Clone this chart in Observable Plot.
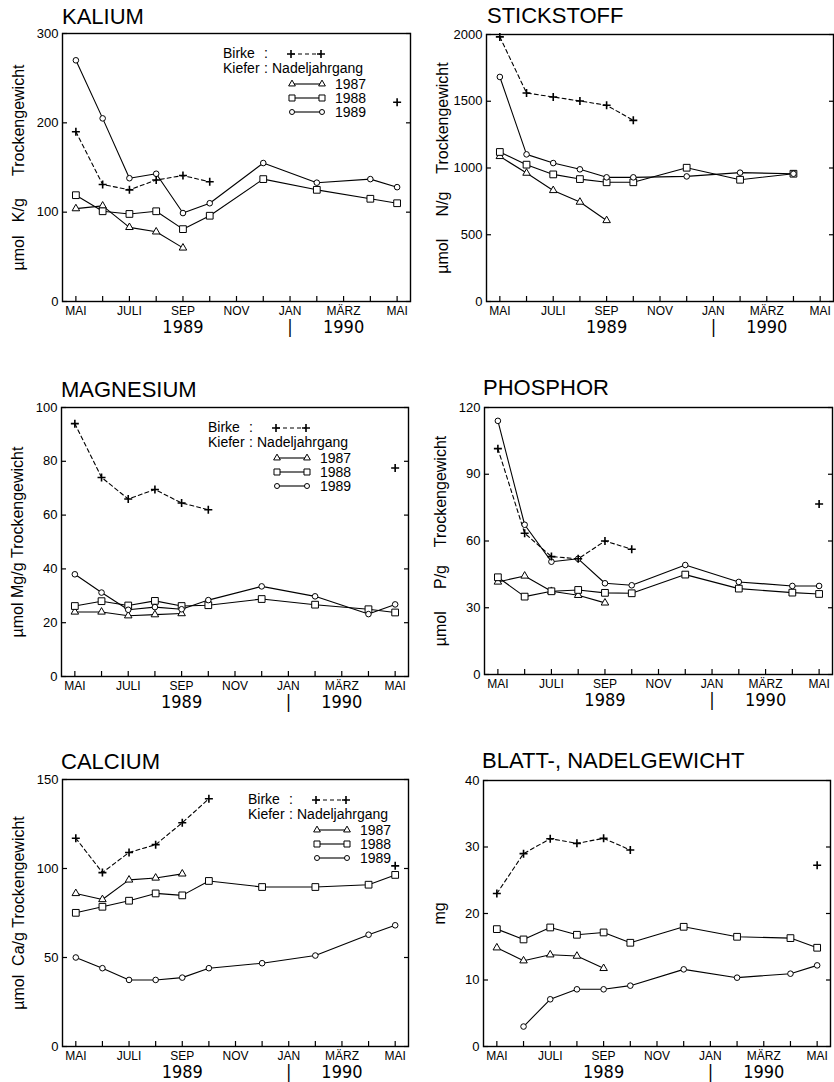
<!DOCTYPE html>
<html>
<head>
<meta charset="utf-8">
<script src="https://cdn.jsdelivr.net/npm/d3@7"></script>
<script src="https://cdn.jsdelivr.net/npm/@observablehq/plot@0.6"></script>
<style>
  body { margin: 0; background: #fff; }
  #root { position: relative; width: 834px; height: 1082px; overflow: hidden; background: #fff;
          font-family: "Liberation Sans", Arial, sans-serif; color: #000; }
  .panel { position: absolute; }
  .panel svg { display: block; overflow: visible; }
  .title { position: absolute; font-size: 22px; line-height: 1; white-space: nowrap; color: #000; }
</style>
</head>
<body>
<div id="root"></div>
<script>
// ---------- shared axis data ----------
const months = d3.range(13); // 0 = Mai 1989 ... 12 = Mai 1990
const monthLabels = ["MAI", "", "JULI", "", "SEP", "", "NOV", "", "JAN", "", "MÄRZ", "", "MAI"];
const yearTicks = [4, 8, 10];
const yearLabels = ["1989", "|", "1990"];
const legendBirke = "Birke";
const legendKiefer = "Kiefer";
const legendNadel = "Nadeljahrgang";
const legendYears = ["1987", "1988", "1989"];

// ---------- KALIUM ----------
const kaliumTicks = [0, 100, 200, 300];
const kaliumBirke = [190, 131, 125, 136, 141, 134, null, null, null, null, null, null, 223];
const kaliumK87 = [104, 107, 83, 78, 60, null, null, null, null, null, null, null, null];
const kaliumK88 = [119, 101, 98, 101, 81, 96, null, 137, null, 125, null, 115, 110];
const kaliumK89 = [270, 205, 138, 143, 99, 110, null, 155, null, 133, null, 137, 128];

// ---------- STICKSTOFF ----------
const stickTicks = [0, 500, 1000, 1500, 2000];
const stickBirke = [1982, 1562, 1532, 1502, 1470, 1357, null, null, null, null, null, null, null];
const stickK87 = [1087, 962, 832, 745, 607, null, null, null, null, null, null, null, null];
const stickK88 = [1120, 1025, 952, 917, 893, 893, null, 1002, null, 912, null, 957, null];
const stickK89 = [1682, 1102, 1037, 990, 930, 930, null, 937, null, 965, null, 957, null];

// ---------- MAGNESIUM ----------
const magTicks = [0, 20, 40, 60, 80, 100];
const magBirke = [94, 74, 66, 69.5, 64.5, 62, null, null, null, null, null, null, 77.5];
const magK87 = [24, 24, 22.6, 23, 23.4, null, null, null, null, null, null, null, null];
const magK88 = [26.2, 28, 26.4, 28.1, 26.2, 26.5, null, 28.8, null, 26.7, null, 25, 23.8];
const magK89 = [38, 31.2, 24.8, 25.8, 25, 28.4, null, 33.5, null, 29.8, null, 23.2, 26.8];

// ---------- PHOSPHOR ----------
const phosTicks = [0, 30, 60, 90, 120];
const phosBirke = [101.5, 63.5, 53, 52, 60, 56.3, null, null, null, null, null, null, 76.6];
const phosK87 = [41.6, 44.3, 37.4, 35.6, 32.2, null, null, null, null, null, null, null, null];
const phosK88 = [43.7, 35, 37.4, 38, 36.7, 36.5, null, 44.9, null, 38.6, null, 36.8, 36.2];
const phosK89 = [114, 67.3, 50.7, 52, 41, 40.1, null, 49.2, null, 41.6, null, 39.8, 39.8];

// ---------- CALCIUM ----------
const calTicks = [0, 50, 100, 150];
const calBirke = [117, 97.7, 109, 113.4, 125.7, 139.2, null, null, null, null, null, null, 101.5];
const calK87 = [86, 82.6, 93.6, 94.7, 97, null, null, null, null, null, null, null, null];
const calK88 = [75.1, 78.5, 81.9, 86, 84.9, 93, null, 89.6, null, 89.6, null, 90.9, 96.4];
const calK89 = [50, 44, 37.4, 37.4, 38.7, 44, null, 46.8, null, 51.1, null, 62.8, 68.1];

// ---------- BLATT-, NADELGEWICHT ----------
const blattTicks = [0, 10, 20, 30, 40];
const blattBirke = [23, 29, 31.25, 30.55, 31.3, 29.55, null, null, null, null, null, null, 27.25];
const blattK87 = [14.85, 12.9, 13.8, 13.6, 11.75, null, null, null, null, null, null, null, null];
const blattK88 = [17.65, 16.1, 17.9, 16.8, 17.15, 15.6, null, 18, null, 16.5, null, 16.3, 14.85];
const blattK89 = [null, 3, 7.1, 8.6, 8.6, 9.15, null, 11.6, null, 10.35, null, 10.95, 12.2];

const NB = "\u00a0";
const sp = n => NB.repeat(n);

// ---------- layout (page pixels) ----------
const panels = [
  {title: "KALIUM", yLabel: "µmol" + sp(3) + "K/g" + sp(5) + "Trockengewicht", ticks: kaliumTicks,
   data: [kaliumBirke, kaliumK87, kaliumK88, kaliumK89], left: 0, frame: [62, 33, 410, 301], titleAt: [62, 6], legendDx: 161},
  {title: "STICKSTOFF", yLabel: "µmol" + sp(5) + "N/g" + sp(4) + "Trockengewicht", ticks: stickTicks,
   data: [stickBirke, stickK87, stickK88, stickK89], left: 417, frame: [486, 34, 833, 301], titleAt: [487, 5], legendDx: null},
  {title: "MAGNESIUM", yLabel: "µmol" + sp(1) + "Mg/g" + sp(1) + "Trockengewicht", ticks: magTicks,
   data: [magBirke, magK87, magK88, magK89], left: 0, frame: [61, 407, 408, 676], titleAt: [61, 379], legendDx: 147},
  {title: "PHOSPHOR", yLabel: "µmol" + sp(5) + "P/g" + sp(4) + "Trockengewicht", ticks: phosTicks,
   data: [phosBirke, phosK87, phosK88, phosK89], left: 417, frame: [484, 407, 832, 674], titleAt: [483, 377], legendDx: null},
  {title: "CALCIUM", yLabel: "µmol" + sp(2) + "Ca/g" + sp(1) + "Trockengewicht", ticks: calTicks,
   data: [calBirke, calK87, calK88, calK89], left: 0, frame: [62, 779, 408, 1046], titleAt: [61, 751], legendDx: 186},
  {title: "BLATT-, NADELGEWICHT", yLabel: "mg", ticks: blattTicks,
   data: [blattBirke, blattK87, blattK88, blattK89], left: 417, frame: [483, 780, 830, 1046], titleAt: [482, 750], legendDx: null}
];

const plusSymbol = {
  draw(ctx, size) {
    const r = Math.sqrt(size / Math.PI);
    ctx.moveTo(-r, 0); ctx.lineTo(r, 0);
    ctx.moveTo(0, -r); ctx.lineTo(0, r);
  }
};

const FONT = "'Liberation Sans', Arial, sans-serif";
const NARROW = "'Liberation Sans Narrow', 'DejaVu Sans Condensed', 'Liberation Sans', Arial, sans-serif";

function points(arr) {
  return arr.map((v, m) => ({m, v})).filter(d => d.v != null);
}

function makePanel(p) {
  const [L, T, R, B] = p.frame;
  const mTop = 8, mBottom = 44;
  const top = T - mTop;
  const height = B + mBottom - top;
  const [birke, k87, k88, k89] = p.data;
  const birkePts = points(birke).map(d => ({...d, seg: d.m <= 6 ? "a" : "b"}));
  const dotStyle = {x: "m", y: "v", fill: "white", stroke: "black", strokeWidth: 1};
  const lineStyle = {x: "m", y: "v", stroke: "black", strokeWidth: 1.1};
  const svg = Plot.plot({
    width: 417,
    height,
    marginLeft: L - p.left,
    marginRight: p.left + 417 - R,
    marginTop: mTop,
    marginBottom: mBottom,
    x: {domain: [-0.5, 12.5]},
    y: {domain: [p.ticks[0], p.ticks[p.ticks.length - 1]]},
    style: {fontFamily: FONT, color: "#000", background: "transparent", overflow: "visible"},
    marks: [
      // inward tick marks
      Plot.axisX(months, {anchor: "bottom", tickSize: 5, dy: -5, tickFormat: () => "", label: null, strokeWidth: 1.2}),
      Plot.axisY(p.ticks, {anchor: "left", tickSize: 5, dx: 5, tickFormat: () => "", label: null, strokeWidth: 1.2}),
      Plot.axisY(p.ticks, {anchor: "right", tickSize: 5, dx: -5, tickFormat: () => "", label: null, strokeWidth: 1.2}),
      // labels
      Plot.axisX(months, {anchor: "bottom", tickSize: 0, tickPadding: 5, tickFormat: d => monthLabels[d], fontSize: 12, label: null}),
      Plot.axisX(yearTicks, {anchor: "bottom", tickSize: 0, tickPadding: 19, tickFormat: d => yearLabels[yearTicks.indexOf(d)], fontSize: 18, fontFamily: NARROW, fill: "black", label: null}),
      Plot.axisY(p.ticks, {anchor: "left", tickSize: 0, tickPadding: 4, fontSize: 13, tickFormat: d => String(d), label: null}),
      Plot.text([p.yLabel], {frameAnchor: "left", textAnchor: "middle", rotate: -90, dx: -44, fontSize: 16, fill: "black"}),
      // data
      Plot.line(birkePts, {...lineStyle, z: "seg", strokeDasharray: "4,3"}),
      Plot.line(points(k87), lineStyle),
      Plot.line(points(k88), lineStyle),
      Plot.line(points(k89), lineStyle),
      Plot.dot(points(k87), {...dotStyle, symbol: "triangle", r: 2.8}),
      Plot.dot(points(k88), {...dotStyle, symbol: "square", r: 3.8}),
      Plot.dot(points(k89), {...dotStyle, symbol: "circle", r: 2.8}),
      Plot.dot(points(birke), {x: "m", y: "v", symbol: plusSymbol, r: 4, fill: "none", stroke: "black", strokeWidth: 1.6}),
      Plot.frame({stroke: "black", strokeWidth: 1.4})
    ]
  });
  const wrap = document.createElement("div");
  wrap.className = "panel";
  wrap.style.left = p.left + "px";
  wrap.style.top = top + "px";
  wrap.appendChild(svg);
  return wrap;
}

function makeLegend(x, y) {
  const svg = d3.create("svg")
    .attr("width", 180).attr("height", 80)
    .style("position", "absolute").style("left", x + "px").style("top", y + "px")
    .style("overflow", "visible");
  const g = svg.append("g").attr("font-family", FONT).attr("font-size", 14).attr("fill", "black");
  g.append("text").attr("x", 0).attr("y", 13).text(legendBirke);
  g.append("text").attr("x", 41).attr("y", 13).text(":");
  g.append("line").attr("x1", 68).attr("x2", 98).attr("y1", 9).attr("y2", 9)
    .attr("stroke", "black").attr("stroke-width", 1.1).attr("stroke-dasharray", "4,3");
  for (const cx of [68, 98]) {
    g.append("path").attr("transform", `translate(${cx},9)`)
      .attr("d", d3.symbol(plusSymbol, 16 * Math.PI)())
      .attr("fill", "none").attr("stroke", "black").attr("stroke-width", 1.6);
  }
  g.append("text").attr("x", 0).attr("y", 28).text(legendKiefer);
  g.append("text").attr("x", 41).attr("y", 28).text(":");
  g.append("text").attr("x", 49).attr("y", 28).text(legendNadel);
  const syms = [[d3.symbolTriangle, 2.5], [d3.symbolSquare, 3.4], [d3.symbolCircle, 2.5]];
  legendYears.forEach((yr, i) => {
    const cy = 39 + 14 * i;
    g.append("line").attr("x1", 69).attr("x2", 99).attr("y1", cy).attr("y2", cy)
      .attr("stroke", "black").attr("stroke-width", 1.1);
    const [sym, r] = syms[i];
    for (const cx of [69, 99]) {
      g.append("path").attr("transform", `translate(${cx},${cy})`)
        .attr("d", d3.symbol(sym, r * r * Math.PI)())
        .attr("fill", "white").attr("stroke", "black").attr("stroke-width", 1);
    }
    g.append("text").attr("x", 112).attr("y", cy + 5).text(yr);
  });
  return svg.node();
}

const root = document.getElementById("root");
for (const p of panels) {
  root.appendChild(makePanel(p));
  const t = document.createElement("div");
  t.className = "title";
  t.style.left = p.titleAt[0] + "px";
  t.style.top = p.titleAt[1] + "px";
  t.textContent = p.title;
  root.appendChild(t);
  if (p.legendDx != null) root.appendChild(makeLegend(p.frame[0] + p.legendDx, p.frame[1] + 12));
}
</script>
</body>
</html>
